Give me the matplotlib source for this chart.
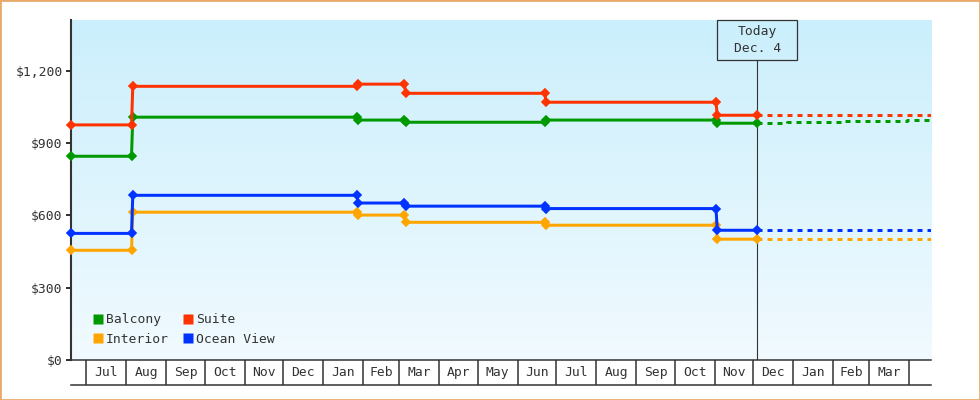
import matplotlib
matplotlib.use('Agg')
import matplotlib.pyplot as plt
import matplotlib.dates as mdates
from matplotlib.patches import Rectangle
from matplotlib.lines import Line2D
import numpy as np
import datetime as dt

plt.rcParams['font.family'] = ['DejaVu Sans Mono', 'DejaVu Sans']
plt.rcParams['lines.scale_dashes'] = False

D = dt.date

# ---------------- data ----------------
point_dates = [D(2021, 6, 19), D(2021, 8, 5), D(2021, 8, 6), D(2022, 1, 27), D(2022, 1, 28),
               D(2022, 3, 5), D(2022, 3, 6), D(2022, 6, 22), D(2022, 6, 23),
               D(2022, 11, 2), D(2022, 11, 3), D(2022, 12, 4)]
balcony = [845, 845, 1007, 1007, 995, 995, 986, 986, 995, 995, 982, 982]
suite = [975, 975, 1135, 1135, 1144, 1144, 1106, 1106, 1069, 1069, 1015, 1015]
interior = [455, 455, 613, 613, 601, 601, 571, 571, 559, 559, 501, 501]
ocean_view = [525, 525, 683, 683, 651, 651, 638, 638, 628, 628, 538, 538]

forecast_dates = [D(2022, 12, 4), D(2022, 12, 27), D(2023, 2, 10), D(2023, 3, 30), D(2023, 4, 18)]
balcony_fc = [982, 986, 990, 994, 994]
suite_fc = [1015, 1015, 1015, 1015, 1015]
interior_fc = [501, 501, 501, 501, 501]
ocean_view_fc = [538, 538, 538, 538, 538]

series_names = ['Balcony', 'Suite', 'Interior', 'Ocean View']
series_colors = {'Balcony': '#009900', 'Suite': '#ff3300', 'Interior': '#ffa500', 'Ocean View': '#0033ff'}

y_ticks = [0, 300, 600, 900, 1200]
y_tick_labels = ['$0', '$300', '$600', '$900', '$1,200']
today = D(2022, 12, 4)
today_label = 'Today\nDec. 4'
x_start, x_end = D(2021, 6, 19), D(2023, 4, 18)
y_max = 1410

# ---------------- figure ----------------
W, H = 980, 400
fig = plt.figure(figsize=(W / 100, H / 100), dpi=100)
fig.patch.set_facecolor('white')
ax = fig.add_axes([71 / W, 40 / H, 860 / W, 340 / H])
ax.set_xlim(mdates.date2num(x_start), mdates.date2num(x_end))
ax.set_ylim(0, y_max)

# gradient background
grad = np.linspace(0, 1, 256).reshape(-1, 1)
top = np.array([203, 239, 252]) / 255
bot = np.array([241, 250, 255]) / 255
img = top[None, None, :] * (1 - grad[:, :, None]) + bot[None, None, :] * grad[:, :, None]
ax.imshow(img, extent=[0, 1, 0, 1], transform=ax.transAxes, aspect='auto', zorder=0)
ax.set_facecolor('none')

dark = '#333333'
lw = 2.16
data = {'Balcony': (balcony, balcony_fc), 'Suite': (suite, suite_fc),
        'Interior': (interior, interior_fc), 'Ocean View': (ocean_view, ocean_view_fc)}
pdn = mdates.date2num(point_dates)
fdn = mdates.date2num(forecast_dates)
for name in ['Interior', 'Ocean View', 'Balcony', 'Suite']:
    vals, fc = data[name]
    c = series_colors[name]
    ax.plot(fdn, fc, color=c, lw=lw, dashes=(3.6, 3.6), drawstyle='steps-post',
            solid_capstyle='butt', dash_capstyle='butt', zorder=3)
    ax.plot(pdn, vals, color=c, lw=lw, marker='D', ms=4.4, mew=1.2, mec=c, mfc=c,
            zorder=4, clip_on=False)

# today line + box
tnum = mdates.date2num(today)
ax.axvline(tnum, ymin=0, ymax=300 / 340, color=dark, lw=0.8, zorder=2)
fig.canvas.draw()
tx = ax.transData.transform((tnum, 0))[0]
box = Rectangle(((tx - 40) / W, (H - 60) / H), 80 / W, 40 / H, transform=fig.transFigure,
                facecolor='none', edgecolor=dark, lw=0.9, zorder=5)
fig.add_artist(box)
fig.text(tx / W, (H - 40) / H, today_label, ha='center', va='center', fontsize=9.4,
         color=dark, linespacing=1.45)

# axes styling
for s in ['top', 'right']:
    ax.spines[s].set_visible(False)
ax.spines['left'].set_color(dark)
ax.spines['left'].set_linewidth(1.5)
ax.spines['bottom'].set_color(dark)
ax.spines['bottom'].set_linewidth(1.1)
ax.set_xticks([])
ax.set_yticks(y_ticks)
ax.set_yticklabels(y_tick_labels)
ax.tick_params(axis='y', length=3.8, width=1.44, color=dark, labelcolor=dark,
               labelsize=9.4, pad=2.2)

# legend
handles = [Line2D([], [], ls='none', marker='s', ms=7.3, mec='none', mfc=series_colors[n])
           for n in ['Balcony', 'Interior', 'Suite', 'Ocean View']]
labels = ['Balcony', 'Interior', 'Suite', 'Ocean View']
leg = ax.legend(handles, labels, ncol=2, loc='lower left', bbox_to_anchor=(0.018, 0.022),
                frameon=False, borderpad=0, handlelength=0.8, handletextpad=0.2,
                columnspacing=1.05, labelspacing=0.5, prop={'size': 9.4})
for t in leg.get_texts():
    t.set_color(dark)

# month strip
ax2 = fig.add_axes([71 / W, 15 / H, 860 / W, 25 / H], sharex=ax)
ax2.set_ylim(0, 1)
ax2.set_facecolor('none')
for s in ['top', 'right', 'left']:
    ax2.spines[s].set_visible(False)
ax2.spines['bottom'].set_color(dark)
ax2.spines['bottom'].set_linewidth(1.1)
ax2.set_xticks([])
ax2.set_yticks([])
month_starts = []
y, m = 2021, 7
while (y, m) <= (2023, 4):
    month_starts.append(D(y, m, 1))
    m += 1
    if m > 12:
        m, y = 1, y + 1
for d in month_starts:
    ax2.axvline(mdates.date2num(d), color=dark, lw=1.1)
for a, b in zip(month_starts[:-1], month_starts[1:]):
    mid = (mdates.date2num(a) + mdates.date2num(b)) / 2
    ax2.text(mid, 0.5, a.strftime('%b'), ha='center', va='center', fontsize=9.4, color=dark)
ax2.set_xlim(mdates.date2num(x_start), mdates.date2num(x_end))

# figure border
fig.add_artist(Rectangle((0, 0), 1, 1, transform=fig.transFigure, facecolor='none',
                         edgecolor='#e8ab6a', lw=2.0))

fig.savefig('out.png', dpi=100)
